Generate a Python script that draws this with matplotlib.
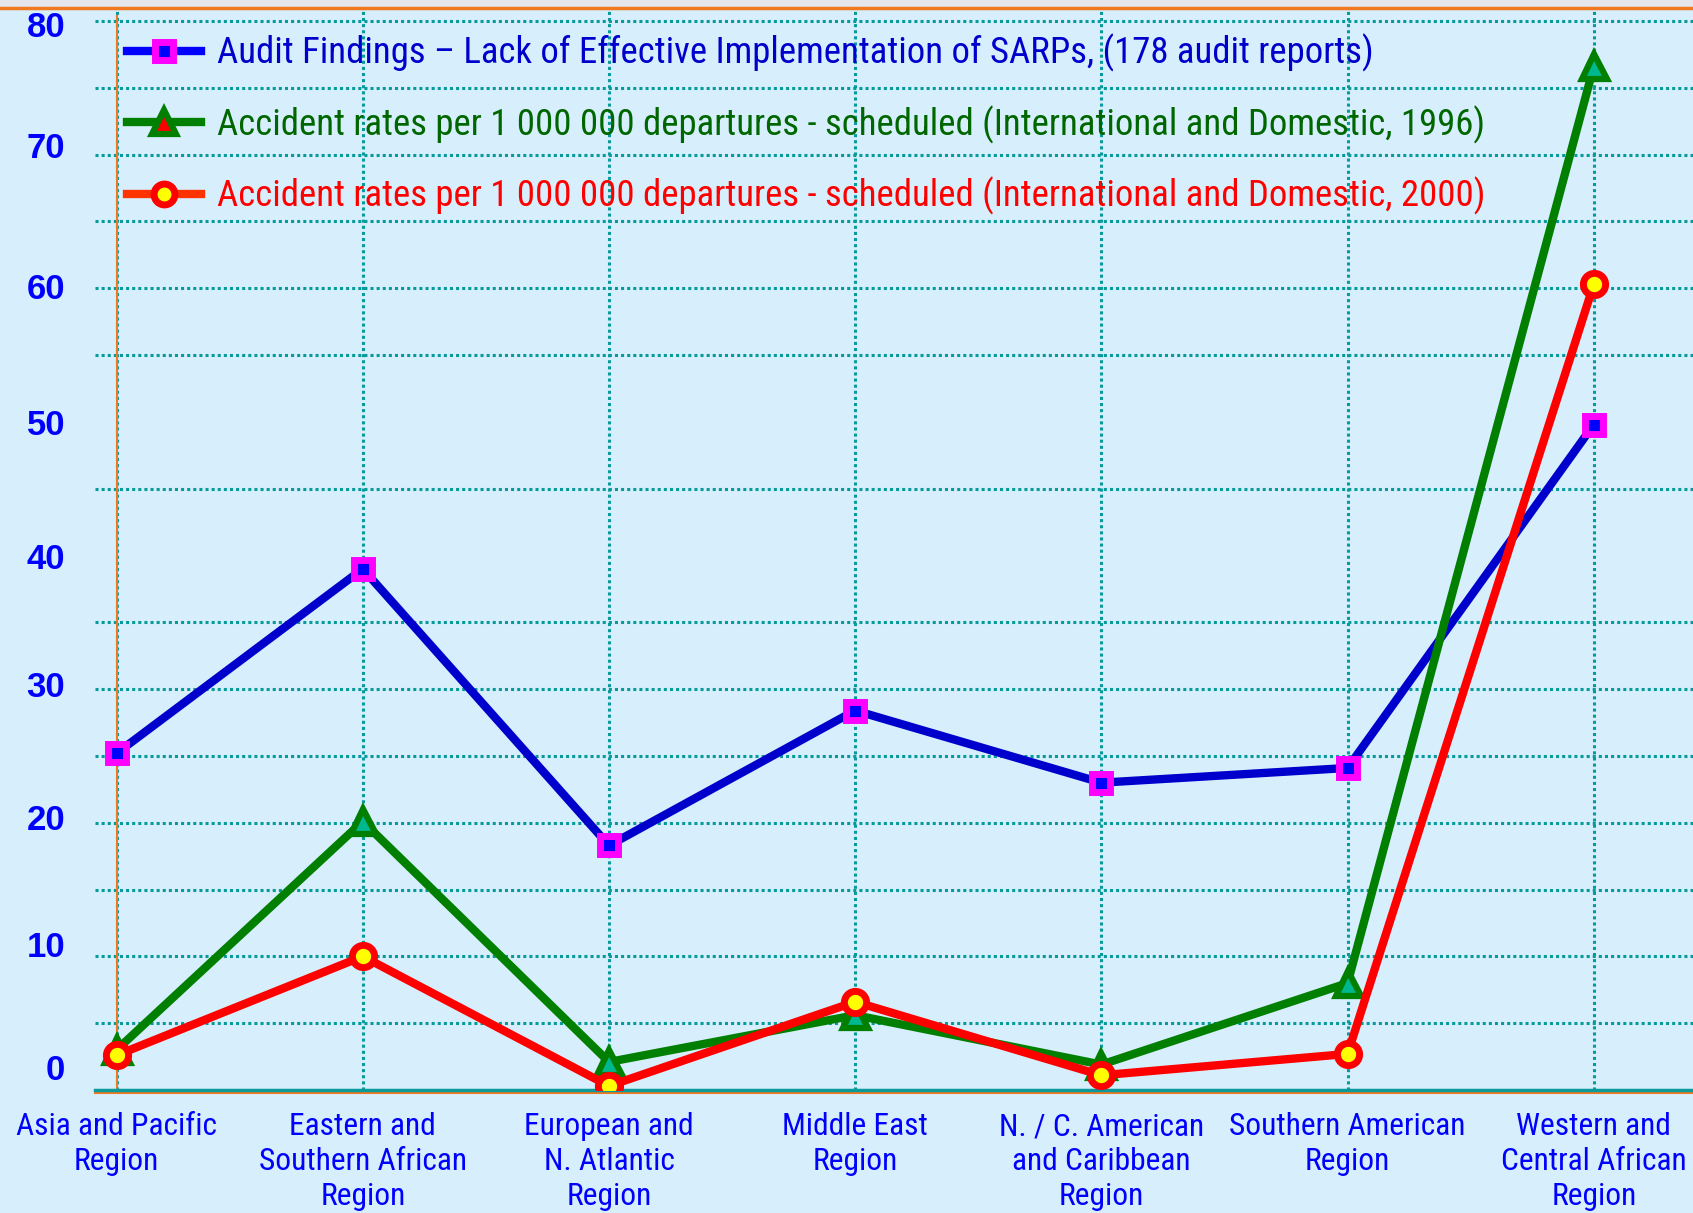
import matplotlib
matplotlib.use("Agg")
import matplotlib.pyplot as plt
from matplotlib.lines import Line2D
from matplotlib.patches import Rectangle
from matplotlib.ticker import FixedLocator

# data
regions = ["Asia and Pacific\nRegion", "Eastern and\nSouthern African\nRegion",
           "European and\nN. Atlantic\nRegion", "Middle East\nRegion",
           "N. / C. American\nand Caribbean\nRegion", "Southern American\nRegion",
           "Western and\nCentral African\nRegion"]
audit_findings = [25.2, 39.0, 18.3, 28.4, 23.0, 24.1, 49.8]
accidents_1996 = [3.0, 20.1, 2.1, 5.6, 1.9, 8.0, 76.6]
accidents_2000 = [2.6, 10.0, 0.3, 6.6, 1.1, 2.7, 60.3]

series_labels = ["Audit Findings \u2013 Lack of Effective Implementation of SARPs, (178 audit reports)",
                 "Accident rates per 1 000 000 departures - scheduled (International and Domestic, 1996)",
                 "Accident rates per 1 000 000 departures - scheduled (International and Domestic, 2000)"]

ytick_labels = ["0", "10", "20", "30", "40", "50", "60", "70", "80"]
# the labels sit a little off the gridlines in the original
ytick_pos = [1.7, 10.9, 20.4, 30.4, 40, 50, 60.2, 70.7, 79.8]
grid_y = list(range(5, 81, 5))

BG = "#D7EFFC"
GRID = "#079A9A"
NARROW = ["Liberation Sans Narrow", "Roboto Condensed", "DejaVu Sans"]

fig = plt.figure(figsize=(16.93, 12.13), dpi=100, facecolor=BG)
ax = fig.add_axes([95 / 1693, 1 - 1090 / 1213, 1 - 95 / 1693, (1090 - 9) / 1213])
ax.set_facecolor(BG)

x = list(range(len(regions)))

ax.plot(x, audit_findings, color="#0000CC", lw=6, marker="s", ms=13,
        mfc="#0000FF", mec="#FF00FF", mew=5, zorder=4)
ax.plot(x, accidents_1996, color="#007F00", lw=6, marker="^", ms=18,
        mfc="#00B890", mec="#007F00", mew=4.5, zorder=5)
ax.plot(x, accidents_2000, color="#FF0000", lw=6, marker="o", ms=16,
        mfc="#FFFF00", mec="#FF0000", mew=5, zorder=6)

ax.set_xlim(-0.0877, 6.403)
ax.set_ylim(0, 80.9)

# spines first: moving a spine rebuilds the ticks
for s in ["top", "right"]:
    ax.spines[s].set_visible(False)
ax.spines["left"].set_position(("data", 0))
ax.spines["left"].set_bounds(0, 80.4)
ax.spines["left"].set_color("#F07820")
ax.spines["left"].set_linewidth(1.5)
ax.spines["bottom"].set_color("#F07820")
ax.spines["bottom"].set_linewidth(1.5)
ax.spines["bottom"].set_position(("outward", 2))
ax.axhline(0, color="#0A9A9A", lw=2.5, zorder=3, clip_on=False)

ax.tick_params(axis="x", length=0, pad=14)
ax.tick_params(axis="y", which="both", length=0, pad=37)
ax.set_xticks(x)
ax.set_xticklabels(regions, family=NARROW, stretch="condensed", fontsize=22.7,
                   color="#0000FF", linespacing=1.26)
ax.yaxis.set_minor_locator(FixedLocator(grid_y))
ax.set_yticks(ytick_pos)
ax.set_yticklabels(ytick_labels, family=["Liberation Sans", "DejaVu Sans"],
                   fontsize=25, fontweight="bold", color="#0000FF")

# grid
ax.grid(axis="x", which="major", color=GRID, lw=2.2, ls=(0, (1, 1)))
ax.grid(axis="y", which="minor", color=GRID, lw=2.2, ls=(0, (1, 1)))
ax.grid(axis="y", which="major", visible=False)
ax.set_axisbelow(True)

# legend with its own handles (the triangle is red inside there)
handles = [
    Line2D([], [], color="#0000FF", lw=6, marker="s", ms=13, mfc="#0000FF", mec="#FF00FF", mew=5),
    Line2D([], [], color="#007F00", lw=6, marker="^", ms=17, mfc="#FF0000", mec="#007F00", mew=4.5),
    Line2D([], [], color="#FF3300", lw=6, marker="o", ms=15, mfc="#FFFF00", mec="#FF0000", mew=5),
]
leg = ax.legend(handles, series_labels, loc="upper left",
                bbox_to_anchor=(127 / 1693, 1 - 34 / 1213), bbox_transform=fig.transFigure,
                frameon=False, borderpad=0, borderaxespad=0, handlelength=2.0,
                handletextpad=0.45, labelspacing=0.9,
                prop={"family": NARROW, "stretch": "condensed", "size": 26.5})
for txt, c in zip(leg.get_texts(), ["#0000CC", "#006600", "#FF0000"]):
    txt.set_color(c)

# window strip and orange border at the top
fig.add_artist(Rectangle((0, 1 - 8 / 1213), 1, 8 / 1213, transform=fig.transFigure,
                         color="#E4E6EC", zorder=10))
fig.add_artist(Line2D([0, 1], [1 - 8 / 1213, 1 - 8 / 1213], transform=fig.transFigure,
                      color="#F07820", lw=2.5, zorder=11))

fig.savefig("out.png", dpi=100, facecolor=BG)
